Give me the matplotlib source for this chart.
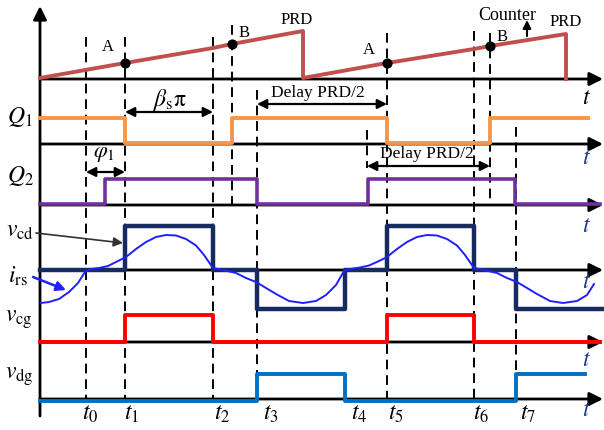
import matplotlib
matplotlib.use("Agg")
import matplotlib.pyplot as plt

plt.rcParams['font.family'] = ['Liberation Serif', 'DejaVu Serif']
plt.rcParams['mathtext.fontset'] = 'stix'

# switching instants (horizontal position on the time axis)
t_marks = [86, 125, 213, 257, 345, 387, 474, 516]
t_names = ['$t_0$', '$t_1$', '$t_2$', '$t_3$', '$t_4$', '$t_5$', '$t_6$', '$t_7$']
t_label_x = [90, 132, 222, 271, 359, 396, 481, 528]

# zero line of each trace row
axis_y = [79, 144, 205, 270, 342, 399]

# counter ramp (PRD saw-tooth)
ramp_x = [40, 125, 213, 232, 303, 303, 387, 474, 490, 566, 566]
ramp_y = [78, 63, 48, 44, 31, 78, 63, 49, 46, 34, 79]
dot_x = [125, 232, 387, 490]
dot_y = [63, 44, 63, 46]

# gate signals as steps: edge times and level (1 high, 0 low, -1 negative)
q1_x = [40, 125, 232, 387, 490, 588]
q1_lv = [1, 0, 1, 0, 1, 1]
q2_x = [40, 105, 257, 368, 515, 600]
q2_lv = [0, 1, 0, 1, 0, 0]
vcd_x = [40, 125, 213, 257, 345, 387, 474, 516, 604]
vcd_lv = [0, 1, 0, -1, 0, 1, 0, -1, -1]
vcg_x = [40, 125, 213, 387, 474, 600]
vcg_lv = [0, 1, 0, 1, 0, 0]
vdg_x = [40, 257, 345, 516, 585]
vdg_lv = [0, 1, 0, 1, 1]

# resonant current i_rs
irs_x = [41, 49, 59, 69, 78, 85, 91, 99, 108, 118, 126, 136, 146, 156, 166,
         176, 186, 196, 204, 213, 223, 236, 246, 256, 266, 276, 289, 303, 316,
         326, 336, 344, 350, 360, 369, 379, 387, 397, 407, 417, 427, 437, 447,
         457, 465, 474, 484, 497, 507, 517, 527, 537, 550, 563, 577, 587, 594]
irs_y = [303, 302, 299, 292, 283, 272, 269, 268, 266, 261, 257, 249, 242, 237, 235,
         235.5, 239, 245.5, 255, 268, 270, 273, 278, 282, 288, 294, 301, 303, 301,
         295, 285, 271, 269, 267.5, 265.5, 261, 257, 249, 242, 237, 235, 235.5, 239,
         245.5, 255, 268, 270, 273, 278, 282, 288, 294, 301, 303, 301, 295, 284]

# dashed markers: x, top, bottom
dash_x = [86, 125, 213, 232, 257, 367, 387, 474, 490, 516]
dash_top = [37, 37, 37, 25, 90, 130, 33, 31, 33, 127]
dash_bot = [400, 402, 400, 205, 402, 168, 402, 400, 205, 402]

fig = plt.figure(figsize=(6.04, 4.30), dpi=100)
ax = fig.add_axes([0, 0, 1, 1])
ax.set_xlim(0, 604)
ax.set_ylim(430, 0)
ax.axis('off')

blue_t = '#1F3A8A'

# axes with arrows
ax.annotate('', xy=(40, 6), xytext=(40, 416),
            arrowprops=dict(arrowstyle='-|>', lw=2, color='k', mutation_scale=20,
                            shrinkA=0, shrinkB=0))
for y in axis_y:
    ax.annotate('', xy=(603, y), xytext=(40, y),
                arrowprops=dict(arrowstyle='-|>', lw=2, color='k', mutation_scale=20,
                                shrinkA=0, shrinkB=0))

for x, a, b in zip(dash_x, dash_top, dash_bot):
    ax.plot([x, x], [a, b], color='k', lw=1.4, ls=(0, (5, 3)), zorder=2)

# ramp
ax.plot(ramp_x, ramp_y, color='#C0504D', lw=2.8, zorder=3)
ax.scatter(dot_x, dot_y, s=40, color='k', zorder=5)

def step(xs, lv, lo, hi, neg=None):
    ys = []
    for v in lv:
        if v == 1:
            ys.append(hi)
        elif v == -1:
            ys.append(neg)
        else:
            ys.append(lo)
    return xs, ys

x, y = step(q1_x, q1_lv, 143, 118)
ax.plot(x, y, drawstyle='steps-post', color='#F79646', lw=2.8, zorder=3)
x, y = step(q2_x, q2_lv, 204, 179)
ax.plot(x, y, drawstyle='steps-post', color='#7030A0', lw=2.6, zorder=3)
x, y = step(vcd_x, vcd_lv, 270, 226, 309)
ax.plot(x, y, drawstyle='steps-post', color='#172B60', lw=3.2, zorder=3)
ax.plot(irs_x, irs_y, color='#2020FF', lw=1.4, zorder=4, solid_joinstyle='round')
x, y = step(vcg_x, vcg_lv, 342, 315)
ax.plot(x, y, drawstyle='steps-post', color='#FF0000', lw=2.8, zorder=3)
x, y = step(vdg_x, vdg_lv, 401, 374)
ax.plot(x, y, drawstyle='steps-post', color='#0070C0', lw=2.8, zorder=3)

# double arrows
dbl = dict(arrowstyle='<|-|>', lw=1.6, color='k', mutation_scale=14, shrinkA=0, shrinkB=0)
ax.annotate('', xy=(213, 112), xytext=(125, 112), arrowprops=dbl)
ax.annotate('', xy=(125, 172), xytext=(86, 172), arrowprops=dbl)
ax.annotate('', xy=(387, 104), xytext=(257, 104), arrowprops=dbl)
ax.annotate('', xy=(490, 166), xytext=(367, 166), arrowprops=dbl)
ax.text(170, 100, r'$\beta_{\mathrm{s}}\mathrm{\pi}$', fontsize=17, ha='center', va='center')
ax.text(104, 154, r'$\varphi_1$', fontsize=16, ha='center', va='center')
ax.text(318, 93, 'Delay PRD/2', fontsize=12.5, ha='center', va='center')
ax.text(427, 154, 'Delay PRD/2', fontsize=12.5, ha='center', va='center')

# ramp annotations
ax.text(108, 47, 'A', fontsize=12, ha='center', va='center')
ax.text(244, 33, 'B', fontsize=12, ha='center', va='center')
ax.text(297, 20, 'PRD', fontsize=12, ha='center', va='center')
ax.text(369, 50, 'A', fontsize=12, ha='center', va='center')
ax.text(502, 37, 'B', fontsize=12, ha='center', va='center')
ax.text(566, 22, 'PRD', fontsize=12, ha='center', va='center')
ax.text(507, 15, 'Counter', fontsize=13, ha='center', va='center')
ax.annotate('', xy=(527, 20), xytext=(527, 36),
            arrowprops=dict(arrowstyle='-|>', lw=1.5, color='k', mutation_scale=12,
                            shrinkA=0, shrinkB=0))

# row labels
ax.text(20, 117, '$Q_1$', fontsize=17, ha='center', va='center')
ax.text(20, 176, '$Q_2$', fontsize=17, ha='center', va='center')
ax.text(20, 232, r'$v_{\mathrm{cd}}$', fontsize=17, ha='center', va='center')
ax.text(18, 276, r'$i_{\mathrm{rs}}$', fontsize=17, ha='center', va='center')
ax.text(19, 320, r'$v_{\mathrm{cg}}$', fontsize=17, ha='center', va='center')
ax.text(19, 377, r'$v_{\mathrm{dg}}$', fontsize=17, ha='center', va='center')
ax.annotate('', xy=(123, 243), xytext=(36, 233),
            arrowprops=dict(arrowstyle='-|>', lw=1.2, color='#333333', mutation_scale=14,
                            shrinkA=0, shrinkB=0))
ax.annotate('', xy=(66, 290), xytext=(33, 277),
            arrowprops=dict(arrowstyle='-|>', lw=1.8, color='#2020FF', mutation_scale=14,
                            shrinkA=0, shrinkB=0))

# time labels
for xl, name in zip(t_label_x, t_names):
    ax.text(xl, 414, name, fontsize=17, ha='center', va='center')
t_axis_lbl_y = [99, 159, 226, 283, 360, 410]
t_axis_col = ['k', blue_t, blue_t, blue_t, blue_t, blue_t]
for yl, c in zip(t_axis_lbl_y, t_axis_col):
    ax.text(586, yl, '$t$', fontsize=17, ha='center', va='center', color=c)

fig.savefig('out.png', dpi=100)
